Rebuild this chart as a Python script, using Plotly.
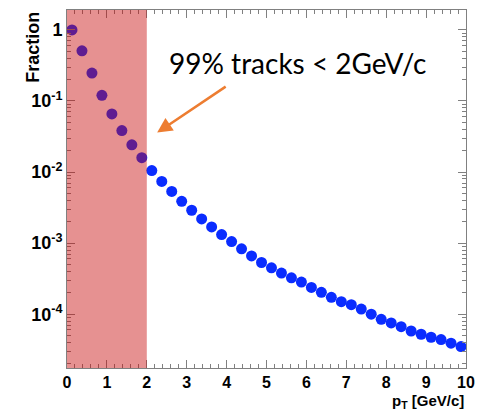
import plotly.graph_objects as go

pt_centers = [0.125 + 0.25 * i for i in range(40)]
fraction = [1.0, 0.507, 0.247, 0.12, 0.0657, 0.0383, 0.0242, 0.0159,
            0.0105, 0.00738, 0.00534, 0.00387, 0.0029, 0.00219, 0.00169, 0.00132,
            0.00105, 0.00083, 0.00066, 0.000534, 0.00045, 0.000379, 0.000325, 0.000283,
            0.000238, 0.000203, 0.000173, 0.00015, 0.000136, 0.000118, 0.0001, 0.0000848,
            0.0000753, 0.0000668, 0.000058, 0.0000522, 0.0000474, 0.0000439, 0.0000391, 0.000035]
y_tickvals = [1e-4, 1e-3, 1e-2, 1e-1, 1]
y_ticktext = ["<b>10<sup>-4</sup></b>", "<b>10<sup>-3</sup></b>", "<b>10<sup>-2</sup></b>",
              "<b>10<sup>-1</sup></b>", "<b>1</b>"]
x_tickvals = list(range(0, 11))
x_ticktext = [f"<b>{v}</b>" for v in x_tickvals]
shade_range = [0, 2]
label_text = "99% tracks < 2GeV/c"

y_minor = [k * 10.0 ** e for e in range(-5, 1) for k in range(2, 10)]

fig = go.Figure()
fig.add_trace(go.Scatter(x=pt_centers, y=fraction, mode="markers",
                         marker=dict(color="#0a2cff", size=11, line=dict(width=0)),
                         showlegend=False))

fig.add_shape(type="rect", xref="x", yref="paper", x0=shade_range[0], x1=shade_range[1],
              y0=0, y1=1, fillcolor="rgba(200,10,10,0.45)", line=dict(width=0), layer="above")

fig.update_layout(
    width=484, height=410,
    margin=dict(l=67, r=14, t=9, b=42),
    paper_bgcolor="white", plot_bgcolor="white",
    font=dict(family="Liberation Sans", color="black", size=14),
    xaxis=dict(range=[0, 10], showgrid=False, zeroline=False,
               showline=True, linecolor="#808080", linewidth=1, mirror="ticks",
               ticks="inside", ticklen=8, tickcolor="#808080",
               tickvals=x_tickvals, ticktext=x_ticktext,
               tickfont=dict(size=16),
               minor=dict(ticks="inside", ticklen=4, dtick=0.2, tickcolor="#808080", showgrid=False)),
    yaxis=dict(type="log", range=[-4.757, 0.28], showgrid=False, zeroline=False,
               showline=True, linecolor="#808080", linewidth=1, mirror="ticks",
               ticks="inside", ticklen=8, tickcolor="#808080",
               tickvals=y_tickvals, ticktext=y_ticktext,
               tickfont=dict(size=18),
               minor=dict(ticks="inside", ticklen=4, tickmode="array", tickvals=y_minor,
                          tickcolor="#808080", showgrid=False)),
)

fig.add_annotation(text="<b>Fraction</b>", xref="paper", yref="paper", x=-0.087, y=1.0,
                   xanchor="center", yanchor="top", textangle=-90, showarrow=False,
                   font=dict(size=18, family="Liberation Sans"))
fig.add_annotation(text="<b>p<sub>T</sub> [GeV/c]</b>", xref="paper", yref="paper", x=1.0, y=-0.062,
                   xanchor="right", yanchor="top", showarrow=False,
                   font=dict(size=15, family="Liberation Sans"))
fig.add_annotation(text=label_text, xref="paper", yref="paper", x=0.578, y=0.852,
                   xanchor="center", yanchor="middle", showarrow=False,
                   font=dict(size=28, family="Lato", color="black"))
fig.add_annotation(text="", x=2.26, y=-1.445, xref="x", yref="y",
                   showarrow=True, ax=70, ay=-47, arrowhead=2, arrowsize=1.2,
                   arrowwidth=2.5, arrowcolor="#ED7D31")

fig.write_html("out.html")
